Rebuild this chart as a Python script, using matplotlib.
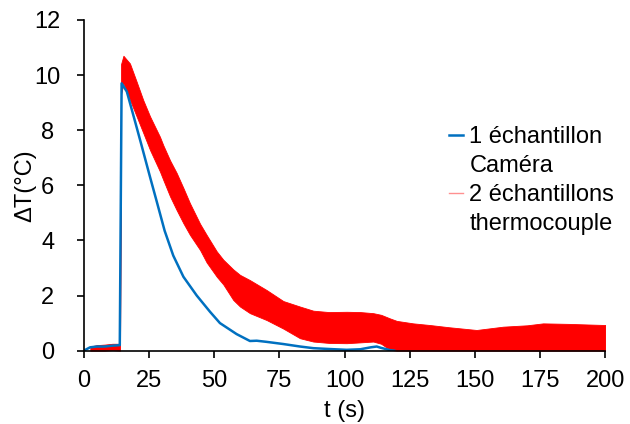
import matplotlib
matplotlib.use('Agg')
import matplotlib.pyplot as plt
from matplotlib.lines import Line2D

plt.rcParams['font.family'] = ['Liberation Sans', 'DejaVu Sans']

# 1 échantillon - caméra (blue line)
t_cam = [0, 1, 2.4, 5, 8, 11, 13.8, 14.5, 16.5, 19.7, 22, 25.4, 28, 31, 34.3, 38.2,
         43.3, 48.4, 52.2, 58.6, 63.7, 66.3, 70, 76.5, 82.9, 88, 94, 100.8, 106,
         110, 112.3, 114, 117.4, 119]
dT_cam = [0, 0.05, 0.12, 0.15, 0.15, 0.18, 0.2, 9.7, 9.4, 8.3, 7.5, 6.3, 5.4, 4.35,
          3.45, 2.68, 2.0, 1.41, 1.0, 0.6, 0.35, 0.36, 0.32, 0.24, 0.15, 0.09, 0.06,
          0.03, 0.05, 0.12, 0.15, 0.1, 0.02, 0.0]

# 2 échantillons - thermocouple (noisy red band: upper / lower envelope)
t_tc = [2.5, 5, 8, 11, 13.9, 14.3, 15.2, 17.7, 20.3, 22.8, 25.4, 29.2, 30.5, 33.1,
        35.6, 38.2, 40.7, 44.6, 47.1, 51, 53.5, 57.3, 59.9, 63.7, 70.1, 76.5, 82.9,
        88, 94, 100.8, 106, 111, 114, 117.4, 120, 126.3, 132.7, 140, 150.6, 160.8,
        170, 176.1, 186.4, 193, 200]
dT_tc_hi = [0.15, 0.2, 0.22, 0.25, 0.25, 10.4, 10.7, 10.42, 9.75, 9.09, 8.5, 7.76,
            7.45, 6.9, 6.45, 5.9, 5.35, 4.6, 4.2, 3.6, 3.3, 2.95, 2.75, 2.56, 2.2,
            1.8, 1.6, 1.45, 1.4, 1.41, 1.4, 1.36, 1.3, 1.17, 1.08, 0.99, 0.93, 0.85,
            0.75, 0.87, 0.92, 0.99, 0.97, 0.95, 0.93]
dT_tc_lo = [0, 0, 0, 0.02, 0, 9.3, 9.7, 9.1, 8.49, 7.9, 7.28, 6.5, 6.19, 5.59, 5.1,
            4.62, 4.2, 3.65, 3.2, 2.68, 2.4, 1.84, 1.6, 1.36, 1.11, 0.8, 0.45, 0.33,
            0.28, 0.27, 0.3, 0.33, 0.25, 0.03, 0, 0, 0, 0, 0, 0, 0, 0, 0, 0, 0]

blue = '#0070C0'
red = '#FF0000'
fs = 17

fig = plt.figure(figsize=(6.3, 4.24), dpi=100)
ax = fig.add_axes([0.133, 0.173, 0.828, 0.780])

ax.fill_between(t_tc, dT_tc_lo, dT_tc_hi, color=red, lw=0.6, edgecolor=red)
ax.plot(t_cam, dT_cam, color=blue, lw=1.8)

ax.set_xlim(0, 200)
ax.set_ylim(0, 12)
ax.set_xticks(range(0, 201, 25))
ax.set_yticks(range(0, 13, 2))
for s in ['top', 'right']:
    ax.spines[s].set_visible(False)
for s in ['left', 'bottom']:
    ax.spines[s].set_linewidth(1.2)
ax.tick_params(axis='both', direction='out', length=5, width=1.2, labelsize=fs)
ax.tick_params(axis='x', pad=9)
ax.tick_params(axis='y', pad=21)
for lab in ax.get_yticklabels():
    lab.set_ha('center')

ax.set_xlabel('t (s)', fontsize=fs, labelpad=6)
ax.set_ylabel('ΔT(°C)', fontsize=fs, labelpad=-1)

handles = [Line2D([], [], color=blue, lw=1.8),
           Line2D([], [], color='none'),
           Line2D([], [], color='#ff9090', lw=1.0),
           Line2D([], [], color='none')]
labels = ['1 échantillon', 'Caméra', '2 échantillons', 'thermocouple']
ax.legend(handles, labels, loc='upper left', bbox_to_anchor=(0.678, 0.715),
          frameon=False, fontsize=fs, handlelength=0.6, handletextpad=0.25,
          labelspacing=0.3, borderpad=0)

fig.savefig('out.png', dpi=100)
